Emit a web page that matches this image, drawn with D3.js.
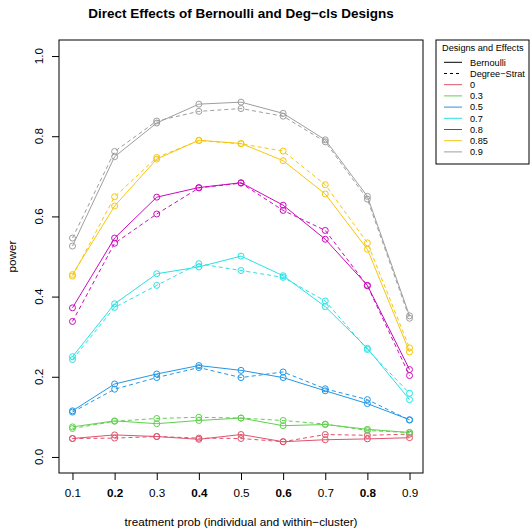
<!DOCTYPE html>
<html>
<head>
<meta charset="utf-8">
<script src="https://cdn.jsdelivr.net/npm/d3@7"></script>
<style>
body { margin: 0; background: #fff; }
svg { font-family: "Liberation Sans", Arial, sans-serif; }
</style>
</head>
<body>
<svg id="chart" width="532" height="529"></svg>
<script>
// power curves, Bernoulli (solid) vs Degree-Strat (dashed)

var probs = [0.1, 0.2, 0.3, 0.4, 0.5, 0.6, 0.7, 0.8, 0.9];
var effects = ["0", "0.3", "0.5", "0.7", "0.8", "0.85", "0.9"];
var colors = ["#DF536B", "#61D04F", "#2297E6", "#28E2E5", "#CD0BBC", "#F5C710", "#9E9E9E"];

var bern0   = [0.046, 0.055, 0.051, 0.044, 0.056, 0.038, 0.043, 0.045, 0.048];
var bern3   = [0.075, 0.090, 0.083, 0.091, 0.097, 0.078, 0.081, 0.069, 0.061];
var bern5   = [0.115, 0.182, 0.207, 0.228, 0.216, 0.198, 0.165, 0.133, 0.093];
var bern7   = [0.250, 0.382, 0.457, 0.474, 0.501, 0.452, 0.375, 0.271, 0.143];
var bern8   = [0.372, 0.546, 0.648, 0.672, 0.684, 0.628, 0.543, 0.428, 0.218];
var bern85  = [0.455, 0.626, 0.743, 0.790, 0.782, 0.739, 0.656, 0.518, 0.262];
var bern9   = [0.526, 0.749, 0.833, 0.880, 0.885, 0.857, 0.791, 0.650, 0.352];

var strat0  = [0.046, 0.047, 0.051, 0.047, 0.046, 0.038, 0.056, 0.054, 0.057];
var strat3  = [0.071, 0.089, 0.096, 0.099, 0.097, 0.091, 0.082, 0.066, 0.061];
var strat5  = [0.112, 0.169, 0.198, 0.223, 0.198, 0.212, 0.170, 0.143, 0.092];
var strat7  = [0.243, 0.373, 0.428, 0.482, 0.465, 0.448, 0.389, 0.268, 0.159];
var strat8  = [0.338, 0.533, 0.606, 0.671, 0.683, 0.615, 0.565, 0.427, 0.203];
var strat85 = [0.451, 0.649, 0.747, 0.789, 0.781, 0.763, 0.679, 0.534, 0.272];
var strat9  = [0.546, 0.762, 0.838, 0.862, 0.869, 0.850, 0.786, 0.643, 0.346];

var bern = [bern0, bern3, bern5, bern7, bern8, bern85, bern9];
var strat = [strat0, strat3, strat5, strat7, strat8, strat85, strat9];

var xTicks = [0.1, 0.2, 0.3, 0.4, 0.5, 0.6, 0.7, 0.8, 0.9];
var yTicks = [0, 0.2, 0.4, 0.6, 0.8, 1.0];

var svg = d3.select("#chart");

var box = {left: 59, right: 423, top: 40, bottom: 473};

var x = d3.scaleLinear().domain([0.068, 0.932]).range([box.left, box.right]);
var y = d3.scaleLinear().domain([-0.04, 1.04]).range([box.bottom, box.top]);

// title
svg.append("text")
    .attr("x", (box.left + box.right) / 2)
    .attr("y", 18)
    .attr("text-anchor", "middle")
    .style("font-size", "13.5px")
    .style("font-weight", "bold")
    .text("Direct Effects of Bernoulli and Deg\u2212cls Designs");

// lines and points
var line = d3.line()
    .x(function(d, i) { return x(probs[i]); })
    .y(function(d) { return y(d); });

function drawSeries(vals, col, dash) {
    svg.append("path")
        .datum(vals)
        .attr("fill", "none")
        .attr("stroke", col)
        .attr("stroke-width", 1)
        .attr("stroke-dasharray", dash)
        .attr("d", line);

    svg.append("g").selectAll("circle")
        .data(vals)
        .enter().append("circle")
        .attr("cx", function(d, i) { return x(probs[i]); })
        .attr("cy", function(d) { return y(d); })
        .attr("r", 3)
        .attr("fill", "none")
        .attr("stroke", col)
        .attr("stroke-width", 1);
}

effects.forEach(function(e, k) {
    drawSeries(bern[k], colors[k], null);
    drawSeries(strat[k], colors[k], "4,3");
});

// box
svg.append("rect")
    .attr("x", box.left)
    .attr("y", box.top)
    .attr("width", box.right - box.left)
    .attr("height", box.bottom - box.top)
    .attr("fill", "none")
    .attr("stroke", "#000");

// x axis
var xAxis = d3.axisBottom(x)
    .tickValues(xTicks)
    .tickSize(7)
    .tickPadding(9)
    .tickFormat(d3.format(".1f"));

var gx = svg.append("g")
    .attr("transform", "translate(0," + box.bottom + ")")
    .call(xAxis);
gx.select(".domain").remove();
gx.selectAll("text")
    .style("font-size", "11.7px")
    .style("font-family", "Liberation Sans, Arial, sans-serif")
    .style("font-weight", function(d, i) { return i % 2 == 1 ? "bold" : "normal"; });

// y axis: ticks from d3, labels rotated like R's default
var yAxis = d3.axisLeft(y)
    .tickValues(yTicks)
    .tickSize(7)
    .tickFormat("");

var gy = svg.append("g")
    .attr("transform", "translate(" + box.left + ",0)")
    .call(yAxis);
gy.select(".domain").remove();

svg.append("g").selectAll("text")
    .data(yTicks)
    .enter().append("text")
    .attr("transform", function(d) { return "translate(43," + y(d) + ") rotate(-90)"; })
    .attr("text-anchor", "middle")
    .style("font-size", "11.7px")
    .text(d3.format(".1f"));

// axis titles
svg.append("text")
    .attr("x", (box.left + box.right) / 2)
    .attr("y", 526)
    .attr("text-anchor", "middle")
    .style("font-size", "11.7px")
    .text("treatment prob (individual and within\u2212cluster)");

svg.append("text")
    .attr("transform", "translate(16," + y(0.5) + ") rotate(-90)")
    .attr("text-anchor", "middle")
    .style("font-size", "11.7px")
    .text("power");

// legend
var lg = svg.append("g").attr("transform", "translate(436,40)");
lg.append("rect")
    .attr("width", 93)
    .attr("height", 124)
    .attr("fill", "#fff")
    .attr("stroke", "#000");
lg.append("text")
    .attr("x", 6)
    .attr("y", 10.5)
    .style("font-size", "9.2px")
    .text("Designs and Effects");

var items = [
    {label: "Bernoulli", col: "#000", dash: null},
    {label: "Degree\u2212Strat", col: "#000", dash: "3,3"}
];
effects.forEach(function(e, k) {
    items.push({label: e, col: colors[k], dash: null});
});

items.forEach(function(it, i) {
    var yy = 22.3 + 11.2 * i;
    lg.append("line")
        .attr("x1", 8).attr("x2", 26)
        .attr("y1", yy).attr("y2", yy)
        .attr("stroke", it.col)
        .attr("stroke-dasharray", it.dash);
    lg.append("text")
        .attr("x", 34)
        .attr("y", yy + 3.3)
        .style("font-size", "9.2px")
        .text(it.label);
});
</script>
</body>
</html>
